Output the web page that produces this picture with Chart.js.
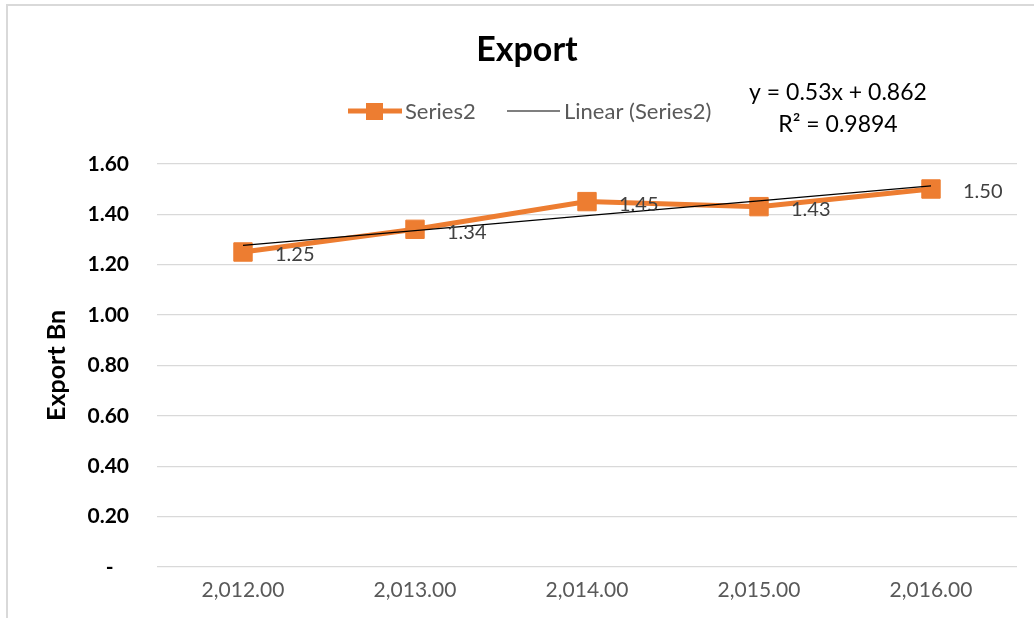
<!DOCTYPE html>
<html>
<head>
<meta charset="utf-8">
<script src="https://cdn.jsdelivr.net/npm/chart.js@4/dist/chart.umd.min.js"></script>
<style>
  html, body { margin: 0; padding: 0; background: #fff; }
  #wrap { position: relative; width: 1034px; height: 618px; overflow: hidden; }
  #frame { position: absolute; left: 6px; top: 4px; width: 1200px; height: 800px;
           border-left: 2px solid #d9d9d9; border-top: 2px solid #d9d9d9; pointer-events: none; }
  canvas { position: absolute; left: 0; top: 0; }
</style>
</head>
<body>
<div id="wrap">
  <div id="frame"></div>
  <canvas id="exportChart" width="1034" height="618"></canvas>
</div>
<script>
// data
const years = ['2,012.00', '2,013.00', '2,014.00', '2,015.00', '2,016.00'];
const series2 = [1.25, 1.34, 1.45, 1.43, 1.50];
const trendLine = [1.276, 1.335, 1.394, 1.453, 1.512];
const equationText = ['y = 0.53x + 0.862', 'R\u00b2 = 0.9894'];

const FONT = 'Lato, "Open Sans", sans-serif';
const ORANGE = '#ED7D31';

// labels to the right of each point + legend + trendline equation
const extras = {
  id: 'extras',
  afterDatasetsDraw(chart) {
    const ctx = chart.ctx;
    const meta = chart.getDatasetMeta(1);
    ctx.save();
    ctx.font = '20px ' + FONT;
    ctx.fillStyle = '#404040';
    ctx.textAlign = 'left';
    ctx.textBaseline = 'middle';
    meta.data.forEach((pt, i) => {
      ctx.fillText(series2[i].toFixed(2), pt.x + 32, pt.y + 3);
    });
    ctx.restore();
  },
  afterDraw(chart) {
    const ctx = chart.ctx;
    ctx.save();
    // legend
    const ly = 111;
    ctx.strokeStyle = ORANGE;
    ctx.lineWidth = 5;
    ctx.beginPath(); ctx.moveTo(348, ly); ctx.lineTo(402, ly); ctx.stroke();
    ctx.fillStyle = ORANGE;
    ctx.fillRect(366, ly - 8, 17, 17);
    ctx.strokeStyle = '#000';
    ctx.lineWidth = 1.2;
    ctx.beginPath(); ctx.moveTo(507, ly); ctx.lineTo(560, ly); ctx.stroke();
    ctx.font = '22px ' + FONT;
    ctx.fillStyle = '#595959';
    ctx.textBaseline = 'middle';
    ctx.textAlign = 'left';
    ctx.fillText('Series2', 405, ly + 1);
    ctx.fillText('Linear (Series2)', 564, ly + 1);
    // equation
    ctx.font = '23px ' + FONT;
    ctx.fillStyle = '#000';
    ctx.textAlign = 'center';
    ctx.fillText(equationText[0], 838, 93);
    ctx.fillText(equationText[1], 838, 125);
    ctx.restore();
  }
};

new Chart(document.getElementById('exportChart'), {
  type: 'line',
  data: {
    labels: years,
    datasets: [
      {
        label: 'Linear (Series2)',
        data: trendLine,
        borderColor: '#000',
        borderWidth: 1.3,
        pointRadius: 0,
        tension: 0,
        order: 0
      },
      {
        label: 'Series2',
        data: series2,
        borderColor: ORANGE,
        backgroundColor: ORANGE,
        borderWidth: 5,
        pointStyle: 'rect',
        pointRadius: 13,
        pointBorderWidth: 1,
        pointBackgroundColor: ORANGE,
        pointBorderColor: ORANGE,
        tension: 0,
        order: 1
      }
    ]
  },
  plugins: [extras],
  options: {
    responsive: false,
    animation: false,
    layout: { padding: { left: 37, right: 17, top: 0, bottom: 0 } },
    plugins: {
      legend: { display: false },
      tooltip: { enabled: false },
      title: {
        display: true,
        text: 'Export',
        color: '#000',
        font: { family: FONT, size: 34, weight: 'bold' },
        padding: { top: 30, bottom: 93 }
      }
    },
    scales: {
      x: {
        offset: true,
        grid: { display: false, drawTicks: false },
        border: { display: false },
        ticks: { color: '#595959', font: { family: FONT, size: 21 }, padding: 11, maxRotation: 0 },
        afterFit(scale) { scale.height = 51; }
      },
      y: {
        min: 0,
        max: 1.6,
        grid: { color: '#d9d9d9', lineWidth: 1.3, drawTicks: false },
        border: { display: false },
        ticks: {
          stepSize: 0.2,
          color: '#000',
          padding: 28,
          font: { family: FONT, size: 21, weight: 'bold' },
          // accounting style: zero shows as a dash, set a little to the left
          callback: v => (Math.abs(v) < 1e-9 ? '-\u00a0\u00a0\u00a0' : v.toFixed(2))
        },
        title: {
          display: true,
          text: 'Export Bn',
          color: '#000',
          font: { family: FONT, size: 25, weight: 'bold' },
          padding: { top: 5, bottom: 0 }
        },
        afterFit(scale) { scale.width = 120; }
      }
    }
  }
});
</script>
</body>
</html>
